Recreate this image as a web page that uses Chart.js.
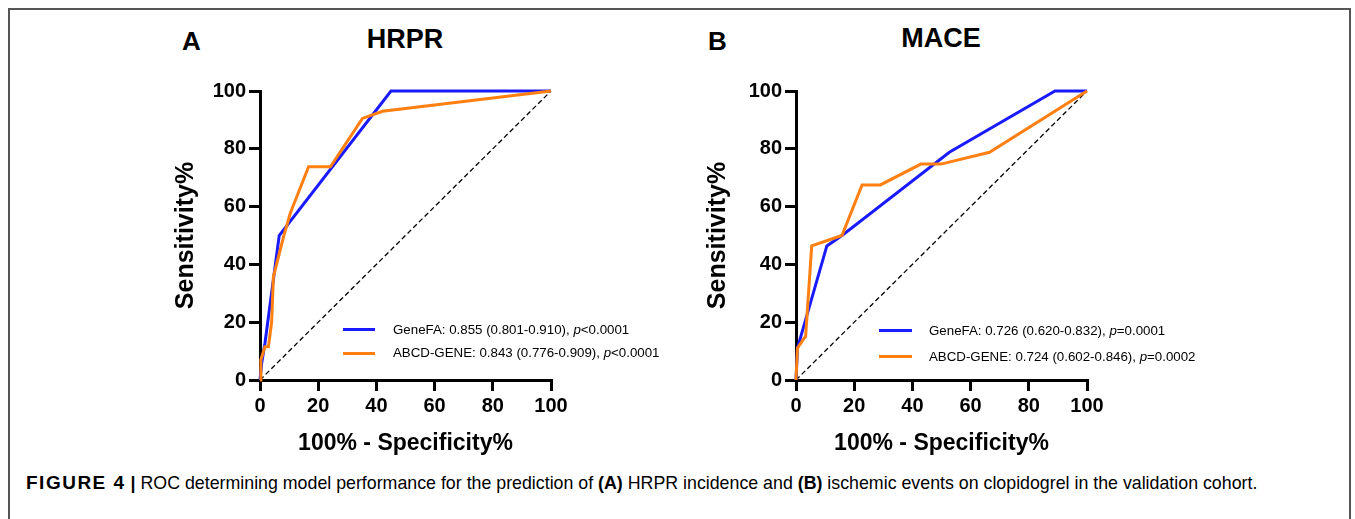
<!DOCTYPE html>
<html>
<head>
<meta charset="utf-8">
<script src="https://cdn.jsdelivr.net/npm/chart.js@4.4.1/dist/chart.umd.min.js"></script>
<style>
  html, body { margin: 0; padding: 0; background: #fff; }
  body { width: 1355px; height: 519px; position: relative; overflow: hidden;
         font-family: "Liberation Sans", Arial, Helvetica, sans-serif; color: #000; }
  .abs { position: absolute; white-space: nowrap; }
  .frame { position: absolute; left: 8px; top: 8px; width: 1343px; height: 600px;
           border: 2px solid #555; box-sizing: border-box; }
  .panel-letter { font-weight: bold; font-size: 26px; line-height: 26px; }
  .panel-title { font-weight: bold; font-size: 27px; line-height: 27px; transform: translateX(-50%); }
  .leg { font-size: 13.3px; line-height: 16px; }
  .legline { position: absolute; height: 3px; }
  .caption { font-size: 17.8px; line-height: 18px; }
  .fig { font-size: 19px; letter-spacing: 1.5px; }
  canvas { position: absolute; }
</style>
</head>
<body>
<div class="frame"></div>

<div class="abs panel-letter" style="left:182px; top:28px;">A</div>
<div class="abs panel-title" style="left:405px; top:26px;">HRPR</div>
<div class="abs panel-letter" style="left:708px; top:28px;">B</div>
<div class="abs panel-title" style="left:941px; top:25px;">MACE</div>

<canvas id="chartA" width="404" height="387" style="left:171px; top:70px;"></canvas>
<canvas id="chartB" width="408" height="387" style="left:703px; top:70px;"></canvas>

<div class="legline" style="left:343px; top:328px; width:32px; background:#1a1aff;"></div>
<div class="abs leg" style="left:393px; top:322px;">GeneFA: 0.855 (0.801-0.910), <i>p</i>&lt;0.0001</div>
<div class="legline" style="left:343px; top:352px; width:32px; background:#ff7f11;"></div>
<div class="abs leg" style="left:393px; top:345px;">ABCD-GENE: 0.843 (0.776-0.909), <i>p</i>&lt;0.0001</div>

<div class="legline" style="left:879px; top:329px; width:33px; background:#1a1aff;"></div>
<div class="abs leg" style="left:929px; top:323px;">GeneFA: 0.726 (0.620-0.832), <i>p</i>=0.0001</div>
<div class="legline" style="left:879px; top:355px; width:33px; background:#ff7f11;"></div>
<div class="abs leg" style="left:929px; top:349px;">ABCD-GENE: 0.724 (0.602-0.846), <i>p</i>=0.0002</div>

<div class="abs caption" style="left:26px; top:474px;"><b class="fig">FIGURE 4</b> <b>|</b> ROC determining model performance for the prediction of <b>(A)</b> HRPR incidence and <b>(B)</b> ischemic events on clopidogrel in the validation cohort.</div>

<script>
// ---- Data (x = 100% - Specificity%, y = Sensitivity%) ----
const tickValues = [0, 20, 40, 60, 80, 100];

const hrprGeneFAx = [0, 0.6, 1.7, 6.6, 45, 100];
const hrprGeneFAy = [0, 6, 12.7, 50, 100, 100];

const hrprAbcdX = [0, 0.3, 1.7, 2.9, 4.0, 4.6, 8.1, 10.4, 16.7, 24.2, 35.2, 42.1, 100];
const hrprAbcdY = [0, 7, 11.5, 11.5, 20, 35.7, 49.6, 57.7, 73.8, 73.8, 90.5, 93, 100];

const maceGeneFAx = [0, 0.5, 10.6, 15.8, 52.7, 89, 100];
const maceGeneFAy = [0, 11, 46.4, 50, 78.8, 100, 100];

const maceAbcdX = [0, 0.5, 2.8, 3.3, 5.4, 15.8, 22.7, 29, 42.9, 49.8, 66.5, 100];
const maceAbcdY = [0, 11, 14.5, 15, 46.4, 50, 67.5, 67.5, 74.7, 74.7, 78.8, 100];

const refLineX = [0, 100];
const refLineY = [0, 100];

const blue = '#1a1aff';
const orange = '#ff7f11';
const fontFamily = '"Liberation Sans", Arial, Helvetica, sans-serif';

function pts(xs, ys) { return xs.map((x, i) => ({ x: x, y: ys[i] })); }

function makeChart(id, yScaleWidth, geneX, geneY, abcdX, abcdY) {
  const axisCommon = {
    type: 'linear', min: 0, max: 100,
    border: { display: true, width: 3, color: '#000' },
    grid: { display: true, drawOnChartArea: false, drawTicks: true, tickLength: 11, lineWidth: 3, color: '#000' },
    ticks: {
      stepSize: 20, padding: 3, color: '#000',
      font: { family: fontFamily, size: 20, weight: 'bold' },
      callback: (v) => tickValues.includes(v) ? String(v) : ''
    }
  };
  return new Chart(document.getElementById(id), {
    type: 'scatter',
    data: {
      datasets: [
        { label: 'ABCD-GENE', data: pts(abcdX, abcdY), showLine: true, borderColor: orange,
          borderWidth: 3, pointRadius: 0, tension: 0, order: 0, clip: false },
        { label: 'GeneFA', data: pts(geneX, geneY), showLine: true, borderColor: blue,
          borderWidth: 3, pointRadius: 0, tension: 0, order: 1, clip: false },
        { label: 'ref', data: pts(refLineX, refLineY), showLine: true, borderColor: '#000',
          borderWidth: 1.3, borderDash: [5, 3], pointRadius: 0, tension: 0, order: 2, clip: false }
      ]
    },
    options: {
      responsive: false, animation: false, devicePixelRatio: 1,
      layout: { padding: { top: 21, right: 24, left: 0, bottom: 0 } },
      plugins: { legend: { display: false }, tooltip: { enabled: false } },
      scales: {
        x: Object.assign({}, axisCommon, {
          position: 'bottom',
          title: { display: true, color: '#000', padding: 0, text: '100% - Specificity%',
                   font: { family: fontFamily, size: 23, weight: 'bold' } },
          afterFit: (s) => { s.height = 77; }
        }),
        y: Object.assign({}, axisCommon, {
          position: 'left',
          title: { display: true, color: '#000', padding: 0, text: 'Sensitivity%',
                   font: { family: fontFamily, size: 25, weight: 'bold' } },
          afterFit: (s) => { s.width = yScaleWidth; }
        })
      }
    }
  });
}

makeChart('chartA', 89, hrprGeneFAx, hrprGeneFAy, hrprAbcdX, hrprAbcdY);
makeChart('chartB', 93, maceGeneFAx, maceGeneFAy, maceAbcdX, maceAbcdY);
</script>
</body>
</html>
